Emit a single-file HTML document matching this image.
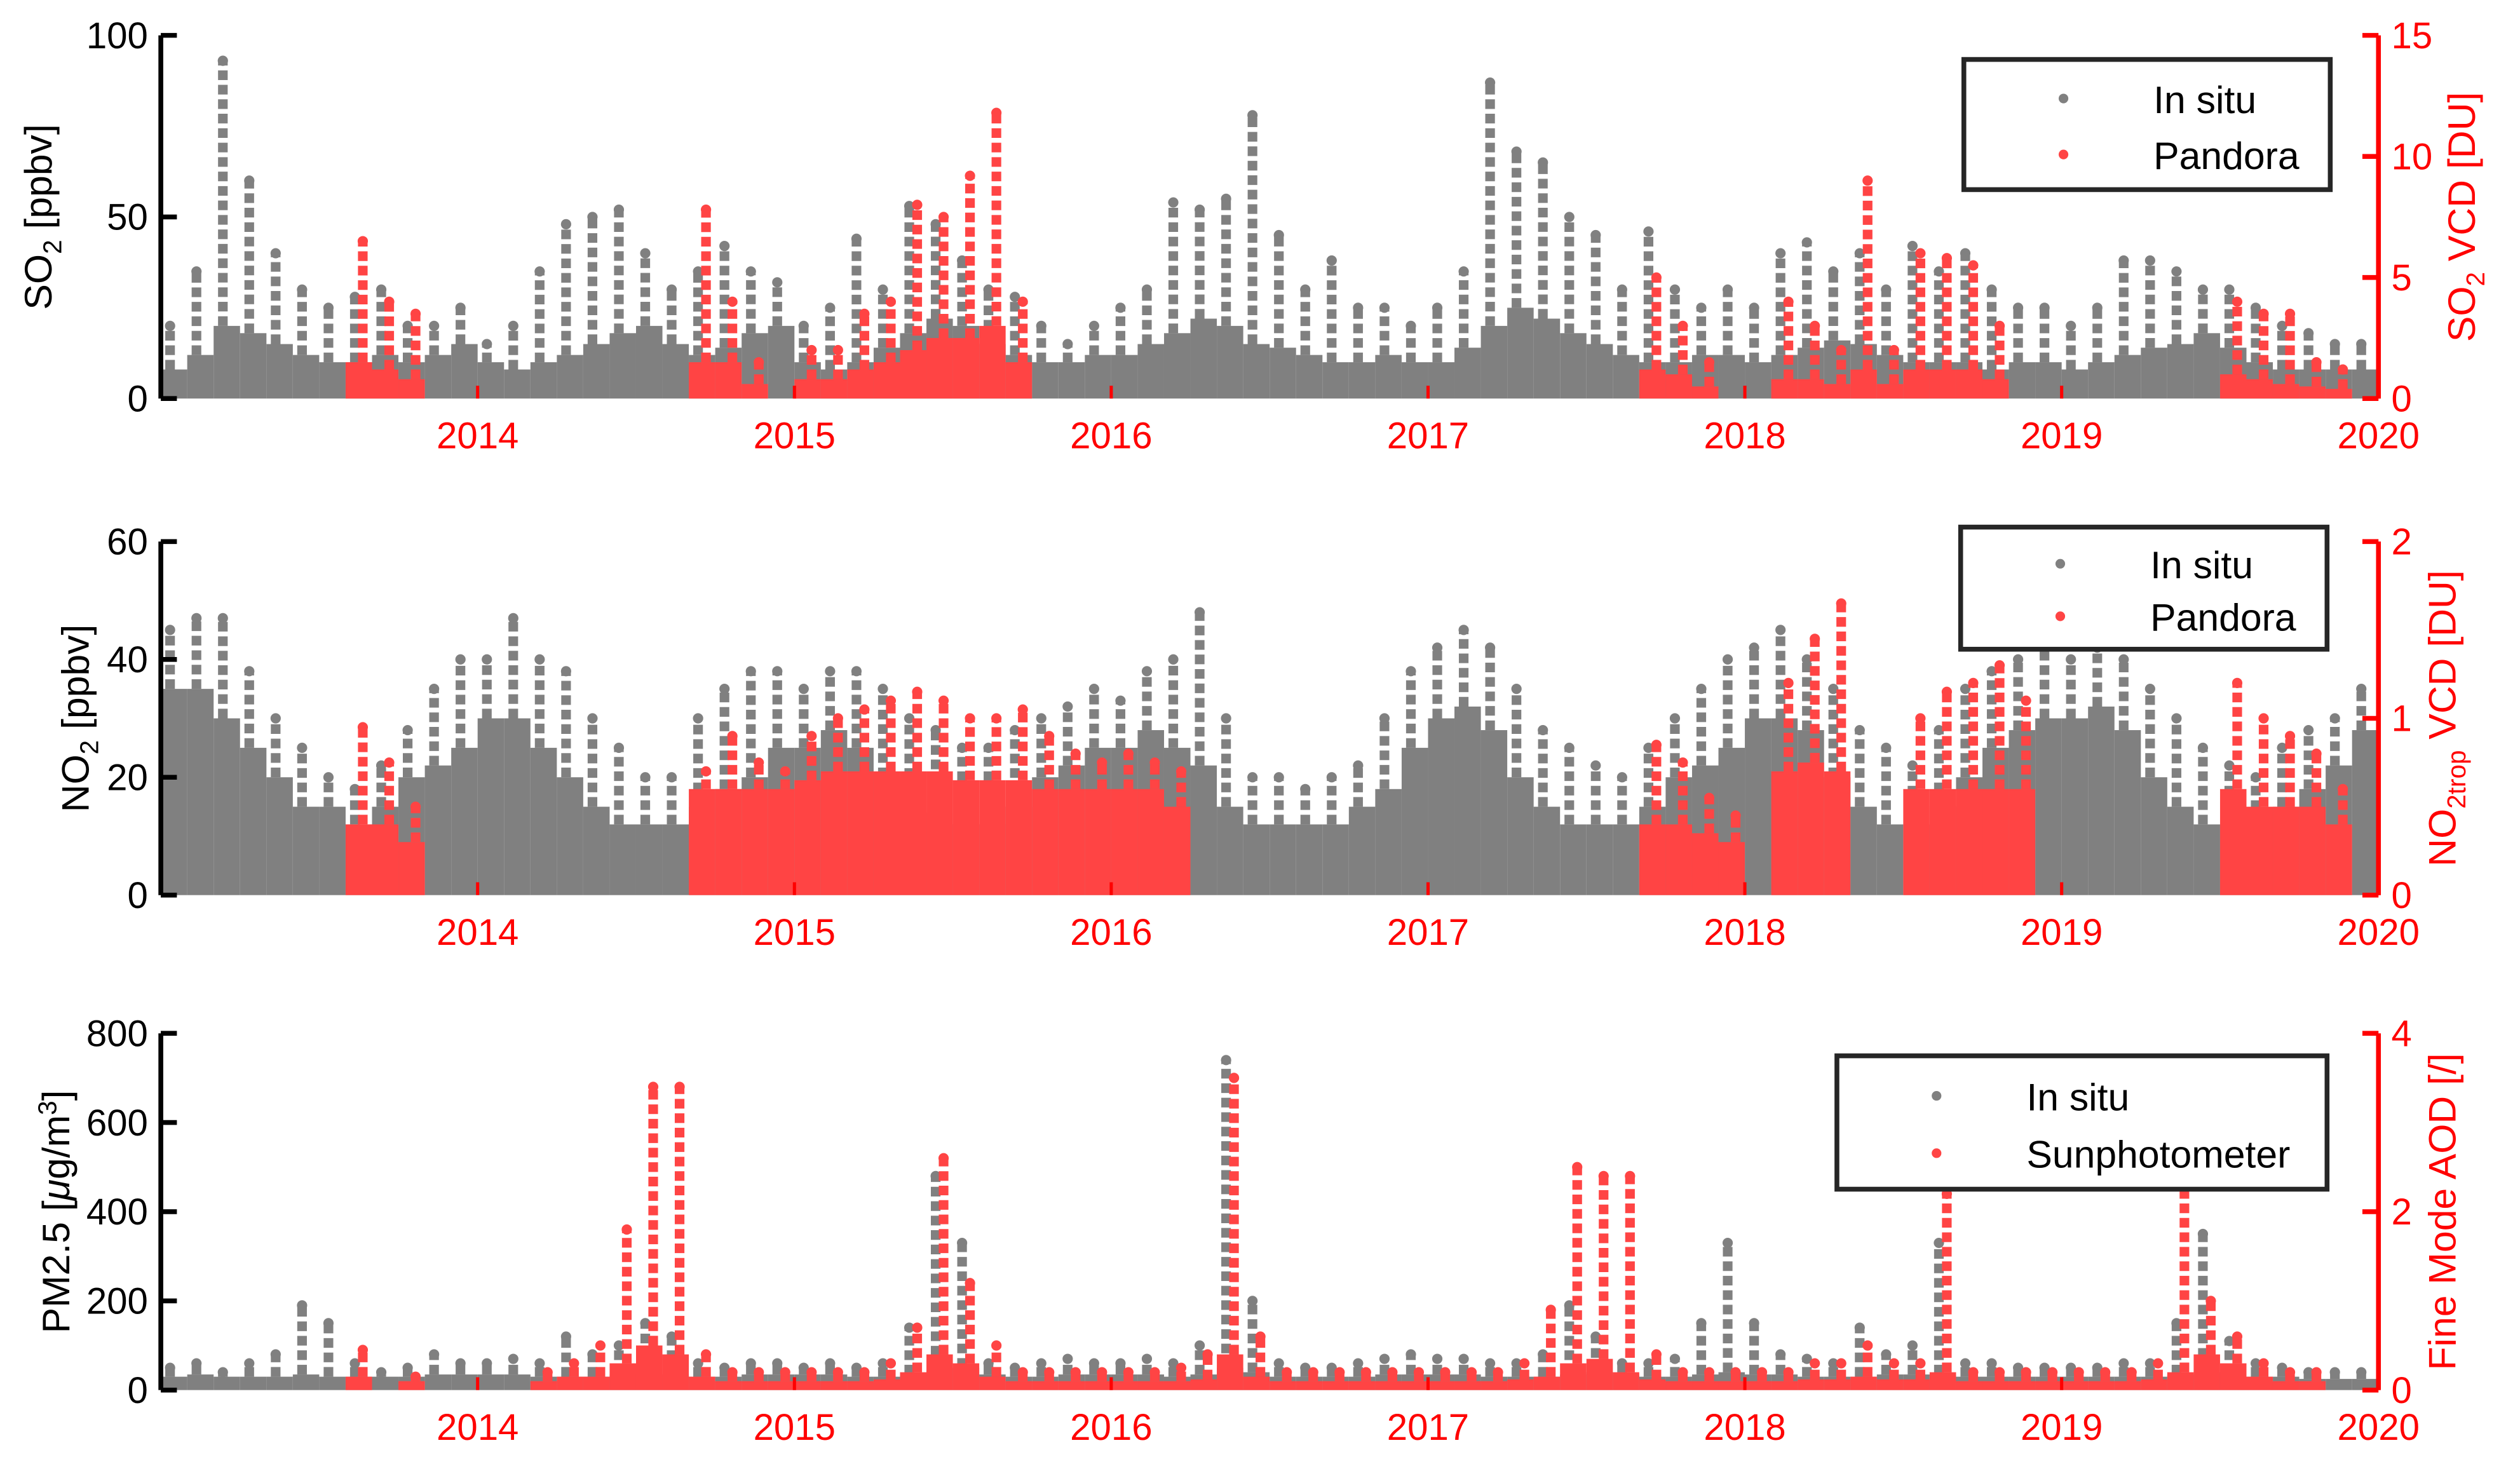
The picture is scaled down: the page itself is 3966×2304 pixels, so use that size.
<!DOCTYPE html>
<html><head><meta charset="utf-8"><style>
html,body{margin:0;padding:0;background:#fff}
svg{display:block}
text{font-family:"Liberation Sans",sans-serif}
</style></head><body>
<svg id="chart" width="3966" height="2304" viewBox="0 0 1568 911" xmlns="http://www.w3.org/2000/svg"></svg>
<script>
// ---------- data (monthly, Jan 2013 .. Dec 2019) ----------
const years = [2014,2015,2016,2017,2018,2019,2020];
const so2Bulk = [8,12,20,18,15,12,10,10,12,10,12,15, 10,8,10,12,15,18,20,15,12,14,18,20, 10,8,10,14,18,22,20,15,12,10,10,12, 12,15,18,22,20,15,14,12,10,10,12,10, 10,14,20,25,22,18,15,12,10,10,12,12, 10,12,14,16,15,12,10,10,10,8,10,10, 8,10,12,14,15,18,14,10,8,8,8,8];
const so2Peak = [20,35,93,60,40,30,25,28,30,20,20,25, 15,20,35,48,50,52,40,30,35,42,35,32, 20,25,44,30,53,48,38,30,28,20,15,20, 25,30,54,52,55,78,45,30,38,25,25,20, 25,35,87,68,65,50,45,30,46,30,25,30, 25,40,43,35,40,30,42,35,40,30,25,25, 20,25,38,38,35,30,30,25,20,18,15,15];
const so2PanBulk = [null,null,null,null,null,null,null,1.5,1.2,0.8,null,null, null,null,null,null,null,null,null,null,1.5,1.5,0.6,null, 0.8,0.8,1.2,1.5,2,2.5,2.5,3,1.5,null,null,null, null,null,null,null,null,null,null,null,null,null,null,null, null,null,null,null,null,null,null,null,1.2,1,0.5,null, null,0.8,0.8,0.6,1.2,0.6,1.2,1.2,1.2,0.8,null,null, null,null,null,null,null,null,1,0.8,0.6,0.5,0.4,null];
const so2PanPeak = [null,null,null,null,null,null,null,6.5,4,3.5,null,null, null,null,null,null,null,null,null,null,7.8,4,1.5,null, 2,2,3.5,4,8,7.5,9.2,11.8,4,null,null,null, null,null,null,null,null,null,null,null,null,null,null,null, null,null,null,null,null,null,null,null,5,3,1.5,null, null,4,3,2,9,2,6,5.8,5.5,3,null,null, null,null,null,null,null,null,4,3.5,3.5,1.5,1.2,null];
const no2Bulk = [35,35,30,25,20,15,15,12,15,20,22,25, 30,30,25,20,15,12,12,12,15,18,20,25, 25,28,25,20,15,14,12,12,15,20,22,25, 25,28,25,22,15,12,12,12,12,15,18,25, 30,32,28,20,15,12,12,12,15,20,22,25, 30,30,28,20,15,12,12,15,20,25,28,30, 30,32,28,20,15,12,12,12,15,18,22,28];
const no2Peak = [45,47,47,38,30,25,20,18,22,28,35,40, 40,47,40,38,30,25,20,20,30,35,38,38, 35,38,38,35,30,28,25,25,28,30,32,35, 33,38,40,48,30,20,20,18,20,22,30,38, 42,45,42,35,28,25,22,20,25,30,35,40, 42,45,40,35,28,25,22,28,35,38,40,42, 40,42,40,35,30,25,22,20,25,28,30,35];
const no2PanBulk = [null,null,null,null,null,null,null,0.4,0.4,0.3,null,null, null,null,null,null,null,null,null,null,0.6,0.6,0.6,0.6, 0.65,0.7,0.7,0.7,0.7,0.7,0.65,0.65,0.65,0.6,0.6,0.6, 0.6,0.6,0.5,null,null,null,null,null,null,null,null,null, null,null,null,null,null,null,null,null,0.4,0.4,0.35,0.3, null,0.7,0.75,0.7,null,null,0.6,0.6,0.6,0.6,0.6,null, null,null,null,null,null,null,0.6,0.5,0.5,0.5,0.4,null];
const no2PanPeak = [null,null,null,null,null,null,null,0.95,0.75,0.5,null,null, null,null,null,null,null,null,null,null,0.7,0.9,0.75,0.7, 0.9,1.0,1.05,1.1,1.15,1.1,1.0,1.0,1.05,0.9,0.8,0.75, 0.8,0.75,0.7,null,null,null,null,null,null,null,null,null, null,null,null,null,null,null,null,null,0.85,0.75,0.55,0.45, null,1.2,1.45,1.65,null,null,1.0,1.15,1.2,1.3,1.1,null, null,null,null,null,null,null,1.2,1.0,0.9,0.8,0.6,null];
const pmBulk = [30,35,30,30,30,35,30,30,30,30,35,35, 35,35,30,30,30,35,40,35,30,30,35,35, 35,35,30,30,35,45,50,35,30,30,35,35, 35,35,30,35,50,40,30,30,30,30,35,35, 35,35,30,30,30,35,40,35,30,30,35,40, 35,35,30,30,30,35,35,35,30,30,30,30, 30,30,30,30,35,40,35,30,30,25,25,25];
const pmPeak = [50,60,40,60,80,190,150,60,40,50,80,60, 60,70,60,120,80,100,150,120,60,50,60,60, 50,60,50,60,140,480,330,60,50,60,70,60, 60,70,60,100,740,200,60,50,50,60,70,80, 70,70,60,60,80,190,120,60,60,70,150,330, 150,80,70,60,140,80,100,330,60,60,50,50, 50,50,60,60,150,350,110,60,50,40,40,40];
const sunBulk = [null,null,null,null,null,null,null,0.15,null,0.1,null,null, null,null,0.1,0.15,0.15,0.3,0.5,0.4,0.15,0.1,0.1,0.1, 0.1,0.1,0.1,0.12,0.2,0.4,0.3,0.15,0.1,0.1,0.1,0.1, 0.1,0.1,0.1,0.12,0.4,0.15,0.1,0.1,0.1,0.1,0.1,0.1, 0.1,0.1,0.1,0.12,0.15,0.3,0.35,0.2,0.12,0.1,0.1,0.1, 0.1,0.1,0.12,0.12,0.15,0.12,0.12,0.2,0.1,0.1,0.1,0.1, 0.1,0.1,0.1,0.12,0.2,0.4,0.3,0.15,0.1,0.1,null,null];
const sunPeak = [null,null,null,null,null,null,null,0.45,null,0.15,null,null, null,null,0.2,0.3,0.5,1.8,3.4,3.4,0.4,0.2,0.2,0.2, 0.2,0.2,0.2,0.3,0.7,2.6,1.2,0.5,0.2,0.2,0.2,0.2, 0.2,0.2,0.25,0.4,3.5,0.6,0.2,0.2,0.2,0.2,0.2,0.2, 0.2,0.2,0.2,0.3,0.9,2.5,2.4,2.4,0.4,0.2,0.2,0.2, 0.2,0.2,0.3,0.3,0.5,0.3,0.3,2.2,0.2,0.2,0.2,0.2, 0.2,0.2,0.2,0.3,2.3,1.0,0.6,0.3,0.2,0.2,null,null];
const so2LeftTicks=[0,50,100], so2RightTicks=[0,5,10,15];
const no2LeftTicks=[0,20,40,60], no2RightTicks=[0,1,2];
const pmLeftTicks=[0,200,400,600,800], pmRightTicks=[0,2,4];

// ---------- drawing ----------
const NS="http://www.w3.org/2000/svg";
const svg=document.getElementById('chart');
const GRAY="#808080", RED="#ff4444", AXR="#ff0000";
const X0=100, X1=1480;
function xScale(t){return X0+(t-2013)/7*(X1-X0);}
function mk(tag,attrs,parent){const e=document.createElementNS(NS,tag);for(const k in attrs)e.setAttribute(k,attrs[k]);(parent||svg).appendChild(e);return e;}
function txt(str,attrs,parent){const e=mk('text',attrs,parent);e.textContent=str;return e;}

function series(g,bulk,peak,yS,color,name,dx){
  const w=(X1-X0)/84;
  for(let i=0;i<bulk.length;i++){
    if(bulk[i]==null)continue;
    const xl=xScale(2013+i/12), yb=yS(bulk[i]), y0=yS(0), yp=yS(peak[i]);
    const r=mk('rect',{x:xl,y:yb,width:w,height:y0-yb,fill:color},g);
    
    
    const cx=xl+w*dx;
    const ln=mk('line',{x1:cx,x2:cx,y1:yb,y2:yp,stroke:color,'stroke-width':6,'stroke-dasharray':'6 3'},g);
    
    
    const c=mk('circle',{cx:cx,cy:yp,r:3.2,fill:color},g);
    
    
  }
}

function panel(o){
  const g=mk('g',{});
  
  
  const yL=v=>o.yB-(v/o.lMax)*(o.yB-o.yT);
  const yR=v=>o.yB-(v/o.rMax)*(o.yB-o.yT);
  series(g,o.ib,o.ip,yL,GRAY,'in-situ',0.35);
  series(g,o.pb,o.pp,yR,RED,o.rname,0.65);
  mk('line',{x1:X0,x2:X0,y1:o.yT,y2:o.yB,stroke:'#000','stroke-width':3},g);
  o.lt.forEach(v=>{
    mk('line',{x1:X0,x2:X0+10,y1:yL(v),y2:yL(v),stroke:'#000','stroke-width':3},g);
    const t=txt(String(v),{x:X0-8,y:yL(v)+8,'font-size':23,'text-anchor':'end',fill:'#000'},g);
    
    
  });
  mk('line',{x1:X1,x2:X1,y1:o.yT,y2:o.yB,stroke:AXR,'stroke-width':3},g);
  o.rt.forEach(v=>{
    mk('line',{x1:X1-10,x2:X1,y1:yR(v),y2:yR(v),stroke:AXR,'stroke-width':3},g);
    const t=txt(String(v),{x:X1+8,y:yR(v)+8,'font-size':23,fill:AXR},g);
    
    
  });
  years.forEach(yr=>{
    const x=xScale(yr);
    mk('line',{x1:x,x2:x,y1:o.yB,y2:o.yB-8,stroke:AXR,'stroke-width':2},g);
    const t=txt(String(yr),{x:x,y:o.yB+31,'font-size':23,'text-anchor':'middle',fill:AXR},g);
    
    
  });
  const L=o.leg;
  const lg=mk('g',{},g);
  
  
  mk('rect',{x:L.x,y:L.y,width:L.w,height:L.h,fill:'#fff',stroke:'#262626','stroke-width':3},lg);
  mk('circle',{cx:L.x+L.dx,cy:L.y+L.h*0.3,r:3,fill:GRAY},lg);
  mk('circle',{cx:L.x+L.dx,cy:L.y+L.h*0.73,r:3,fill:RED},lg);
  const a=txt('In situ',{x:L.x+L.tx,y:L.y+L.h*0.3+9,'font-size':24},lg);
  
  const b=txt(L.second,{x:L.x+L.tx,y:L.y+L.h*0.73+9,'font-size':24},lg);
  
  return g;
}

panel({name:'so2-panel',yT:22,yB:248,lMax:100,rMax:15,ib:so2Bulk,ip:so2Peak,pb:so2PanBulk,pp:so2PanPeak,lt:so2LeftTicks,rt:so2RightTicks,rname:'pandora',
  leg:{x:1222,y:37,w:228,h:81,dx:62,tx:118,second:'Pandora'}});
panel({name:'no2-panel',yT:337,yB:557,lMax:60,rMax:2,ib:no2Bulk,ip:no2Peak,pb:no2PanBulk,pp:no2PanPeak,lt:no2LeftTicks,rt:no2RightTicks,rname:'pandora',
  leg:{x:1220,y:328,w:228,h:76,dx:62,tx:118,second:'Pandora'}});
panel({name:'pm25-panel',yT:643,yB:865,lMax:800,rMax:4,ib:pmBulk,ip:pmPeak,pb:sunBulk,pp:sunPeak,lt:pmLeftTicks,rt:pmRightTicks,rname:'sunphotometer',
  leg:{x:1143,y:657,w:305,h:83,dx:62,tx:118,second:'Sunphotometer'}});

function vtitle(x,y,html,color,name){
  const t=mk('text',{x:0,y:0,'font-size':24,fill:color,'text-anchor':'middle',transform:`translate(${x},${y}) rotate(-90)`});
  t.innerHTML=html;
  
  
}
vtitle(32,135,'SO<tspan font-size="16" dy="6">2</tspan><tspan dy="-6"> [ppbv]</tspan>','#000','so2-y-axis-title');
vtitle(1540,135,'SO<tspan font-size="16" dy="6">2</tspan><tspan dy="-6"> VCD [DU]</tspan>',AXR,'so2-vcd-axis-title');
vtitle(55,447,'NO<tspan font-size="16" dy="6">2</tspan><tspan dy="-6"> [ppbv]</tspan>','#000','no2-y-axis-title');
vtitle(1528,447,'NO<tspan font-size="16" dy="6">2trop</tspan><tspan dy="-6"> VCD [DU]</tspan>',AXR,'no2-vcd-axis-title');
vtitle(43,754,'PM2.5 [<tspan font-style="italic">μ</tspan>g/m<tspan font-size="16" dy="-8">3</tspan><tspan dy="8">]</tspan>','#000','pm25-y-axis-title');
vtitle(1528,754,'Fine Mode AOD [/]',AXR,'aod-axis-title');
</script>
</body></html>
